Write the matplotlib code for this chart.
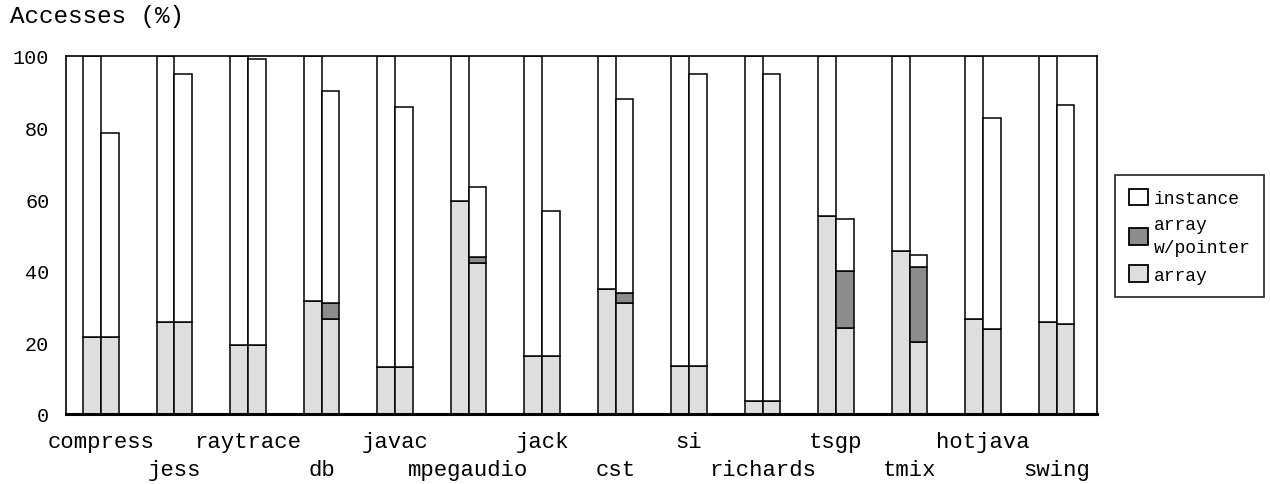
import numpy as np
import matplotlib
matplotlib.use("Agg")
import matplotlib.pyplot as plt
from matplotlib.patches import Patch

plt.rcParams['font.family'] = ['Liberation Mono', 'DejaVu Sans Mono']

# benchmarks in order along the x axis
benchmarks = ["compress", "jess", "raytrace", "db", "javac", "mpegaudio", "jack",
              "cst", "si", "richards", "tsgp", "tmix", "hotjava", "swing"]

# left bar: array + instance = 100
left_array = [21.4, 25.8, 19.3, 31.5, 13.0, 59.6, 16.3, 34.9, 13.5, 3.5, 55.2, 45.5, 26.4, 25.8]

# right bar: array, array w/pointer, and total height
right_array = [21.4, 25.8, 19.3, 26.5, 13.0, 42.1, 16.3, 30.9, 13.5, 3.5, 24.1, 20.2, 23.8, 25.2]
right_pointer = [0.0, 0.0, 0.0, 4.4, 0.0, 1.7, 0.0, 2.8, 0.0, 0.0, 15.8, 20.8, 0.0, 0.0]
right_total = [78.6, 95.0, 99.2, 90.2, 85.7, 63.5, 56.7, 88.1, 95.0, 95.0, 54.5, 44.3, 82.7, 86.4]

C_INST = "white"
C_PTR = "#8c8c8c"
C_ARR = "#dedede"

left_array = np.array(left_array)
right_array = np.array(right_array)
right_pointer = np.array(right_pointer)
right_total = np.array(right_total)
left_inst = 100 - left_array
right_inst = right_total - right_array - right_pointer

fig = plt.figure(figsize=(12.7, 4.85), dpi=100)
ax = fig.add_axes([66/1270, 1 - 415/485, (1097-66)/1270, (415-57)/485])

x = np.arange(len(benchmarks))
w = 0.24
lw = 1.1
kw = dict(width=w, align="edge", edgecolor="black", linewidth=lw)

# left bars
ax.bar(x - w, left_array, color=C_ARR, **kw)
ax.bar(x - w, left_inst, bottom=left_array, color=C_INST, **kw)

# right bars
ax.bar(x, right_array, color=C_ARR, **kw)
has_ptr = right_pointer > 0
ax.bar(x[has_ptr], right_pointer[has_ptr], bottom=right_array[has_ptr], color=C_PTR, **kw)
ax.bar(x, right_inst, bottom=right_array + right_pointer, color=C_INST, **kw)

ax.set_xlim(-0.476, 13.55)
ax.set_ylim(0, 100)
ax.set_yticks(range(0, 101, 20))
ax.tick_params(axis="y", length=0, pad=12, labelsize=14.5)

# staggered benchmark names, two rows
ax.set_xticks([])
trans = ax.get_xaxis_transform()
for i, b in enumerate(benchmarks):
    yy = -0.078 if i % 2 == 0 else -0.154
    ax.text(x[i], yy, b, transform=trans, ha="center", va="center", fontsize=16)

for s in ["left", "top", "right"]:
    ax.spines[s].set_linewidth(1.2)
ax.spines["bottom"].set_linewidth(2.2)

fig.text(10/1270, 1 - 17/485, "Accesses (%)", fontsize=17.5, va="center", ha="left")

handles = [Patch(facecolor=C_INST, edgecolor="black", linewidth=1.3, label="instance"),
           Patch(facecolor=C_PTR, edgecolor="black", linewidth=1.3, label="array\nw/pointer"),
           Patch(facecolor=C_ARR, edgecolor="black", linewidth=1.3, label="array")]
leg = fig.legend(handles=handles, loc="upper left", bbox_to_anchor=(1115/1270, 1 - 176/485),
                 fontsize=13, frameon=True, fancybox=False, edgecolor="black",
                 handlelength=1.05, handleheight=1.05, handletextpad=0.35,
                 borderpad=0.75, labelspacing=0.5, borderaxespad=0)
leg.get_frame().set_linewidth(1.3)
for t in leg.get_texts():
    t.set_linespacing(1.45)

fig.savefig("out.png", dpi=100)
